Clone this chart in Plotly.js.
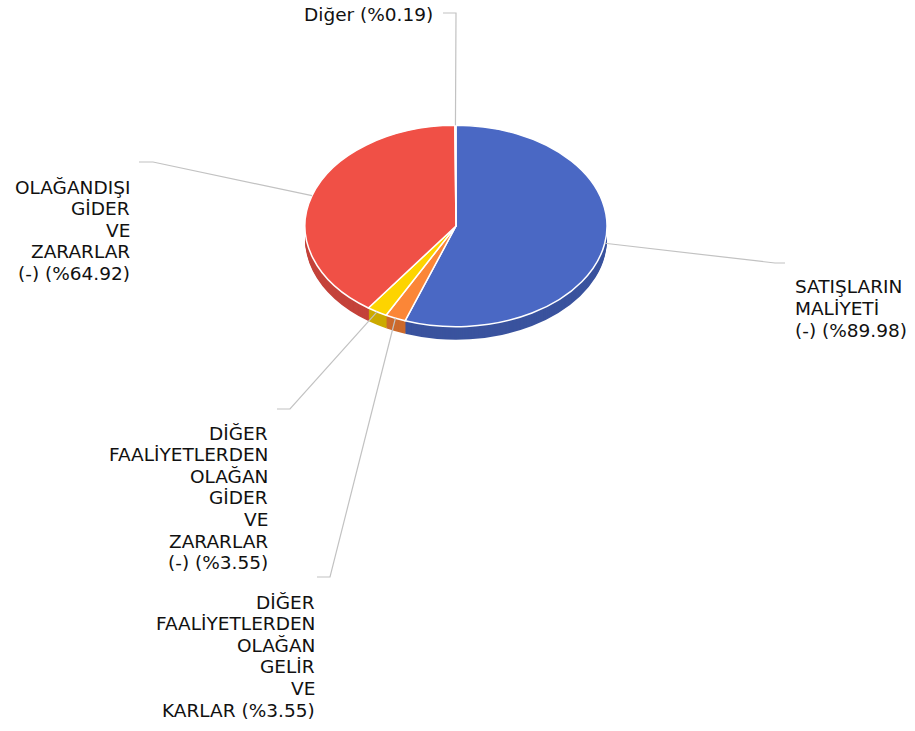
<!DOCTYPE html>
<html>
<head>
<meta charset="utf-8">
<script src="https://cdn.plot.ly/plotly-3.0.1.min.js"></script>
<style>
  html, body { margin: 0; padding: 0; background: #fff; }
  #chart { width: 915px; height: 731px; }
</style>
</head>
<body>
<div id="chart"></div>
<script>
// ---- data ----
const categories = [
  'SATIŞLARIN MALİYETİ (-)',
  'DİĞER FAALİYETLERDEN OLAĞAN GELİR VE KARLAR',
  'DİĞER FAALİYETLERDEN OLAĞAN GİDER VE ZARARLAR (-)',
  'OLAĞANDIŞI GİDER VE ZARARLAR (-)',
  'Diğer'
];
const values = [89.98, 3.55, 3.55, 64.92, 0.19];
const labelLines = [
  ['SATIŞLARIN', 'MALİYETİ', '(-)'],
  ['DİĞER', 'FAALİYETLERDEN', 'OLAĞAN', 'GELİR', 'VE', 'KARLAR'],
  ['DİĞER', 'FAALİYETLERDEN', 'OLAĞAN', 'GİDER', 'VE', 'ZARARLAR', '(-)'],
  ['OLAĞANDIŞI', 'GİDER', 'VE', 'ZARARLAR', '(-)'],
  ['Diğer']
];
const topColors  = ['#4A68C4', '#FB8637', '#FDD400', '#F05046', '#EEEEEE'];
const sideColors = ['#3A539E', '#CC6A2C', '#CCAA00', '#C4423A', '#BBBBBB'];

// ---- layout constants (pixels) ----
const W = 915, H = 731;
const CX = 456, CY = 226, R = 151;
const TILT = 0.667;     // vertical squash of the pie
const DEPTH = 13;       // thickness of the pie side
const LINE_H = 21.6;
const FONT = 'Verdana, "DejaVu Sans", sans-serif';

// label placement: text anchor x, first line centre y, side, elbow point, end point
const labelPlace = [
  {tx: 794, ty: 287, side: 'left',  elbow: [775, 263], end: [785, 263]},
  {tx: 316, ty: 602, side: 'right', elbow: [330, 577], end: [317, 577]},
  {tx: 269, ty: 433, side: 'right', elbow: [290, 409], end: [277, 409]},
  {tx: 131, ty: 187, side: 'right', elbow: [153, 162], end: [139, 162]},
  {tx: 434, ty: 15,  side: 'right', elbow: [456, 13],  end: [443, 13]}
];

const px = x => x / W;
const py = y => 1 - y / H;

const domain = {
  x: [px(CX - R), px(CX + R)],
  y: [py(CY + R), py(CY - R)]
};

const traces = [];
for (let d = DEPTH; d >= 1; d--) {
  traces.push({
    type: 'pie', labels: categories, values: values, sort: false,
    direction: 'clockwise', rotation: 0, domain: domain,
    marker: {colors: sideColors, line: {width: 0}},
    textinfo: 'none', hoverinfo: 'skip', showlegend: false
  });
}
traces.push({
  type: 'pie', labels: categories, values: values, sort: false,
  direction: 'clockwise', rotation: 0, domain: domain,
  marker: {colors: topColors, line: {color: '#ffffff', width: 1.5}},
  textinfo: 'none', hoverinfo: 'skip', showlegend: false
});

// ---- labels and connectors ----
const total = values.reduce((a, b) => a + b, 0);
const annotations = [];
const shapes = [];
let cum = 0;
values.forEach((v, i) => {
  const mid = (cum + v / 2) / total * 2 * Math.PI;
  cum += v;
  const sx = CX + R * Math.sin(mid);
  const sy = CY - R * TILT * Math.cos(mid);
  const p = labelPlace[i];
  shapes.push({
    type: 'path', xref: 'paper', yref: 'paper',
    path: `M ${px(sx)} ${py(sy)} L ${px(p.elbow[0])} ${py(p.elbow[1])} L ${px(p.end[0])} ${py(p.end[1])}`,
    line: {color: '#C2C2C2', width: 1.2}
  });
  const lines = labelLines[i].slice();
  lines[lines.length - 1] = lines[lines.length - 1] + ' (%' + v.toFixed(2) + ')';
  lines.forEach((t, j) => {
    annotations.push({
      xref: 'paper', yref: 'paper',
      x: px(p.tx), y: py(p.ty + j * LINE_H),
      xanchor: p.side, yanchor: 'middle',
      text: t, showarrow: false, borderpad: 0,
      font: {family: FONT, size: 18.5, color: '#111111'}
    });
  });
});

const layout = {
  width: W, height: H,
  margin: {l: 0, r: 0, t: 0, b: 0},
  paper_bgcolor: '#ffffff',
  plot_bgcolor: '#ffffff',
  showlegend: false,
  annotations: annotations,
  shapes: shapes
};

const gd = document.getElementById('chart');
Plotly.newPlot(gd, traces, layout, {staticPlot: true, displayModeBar: false}).then(() => {
  const groups = gd.querySelectorAll('.pielayer g.trace');
  groups.forEach((g, i) => {
    const cy = (gd.calcdata[i] && gd.calcdata[i][0].cy) || CY;
    const shift = i < DEPTH ? (DEPTH - i) : 0;
    g.setAttribute('transform',
      `translate(0, ${cy + shift}) scale(1, ${TILT}) translate(0, ${-cy})`);
    g.querySelectorAll('path').forEach(pth => {
      pth.style.vectorEffect = 'non-scaling-stroke';
    });
  });
});
</script>
</body>
</html>
